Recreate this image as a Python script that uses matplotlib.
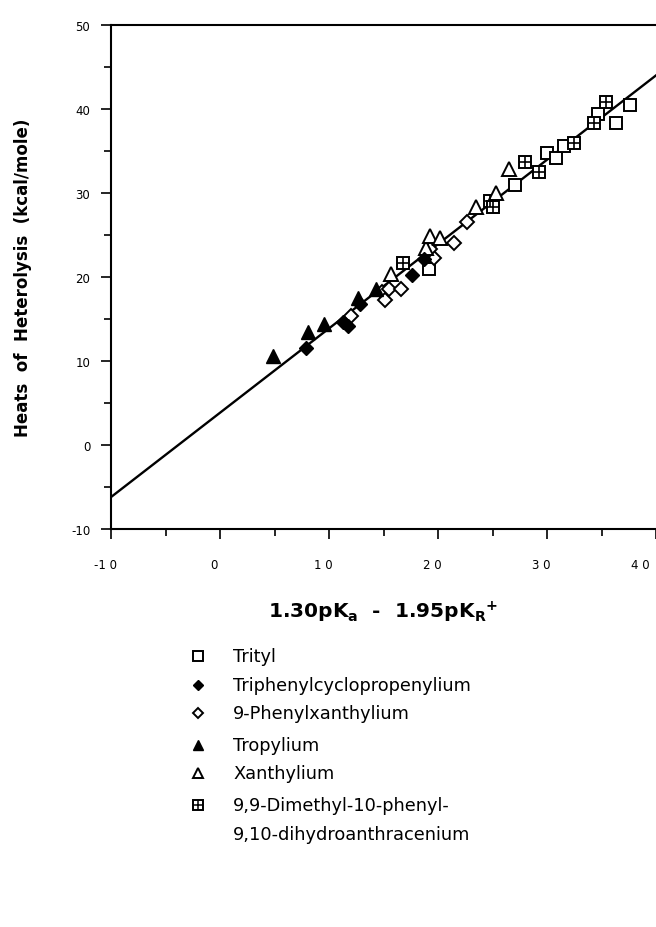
import matplotlib
matplotlib.use("Agg")
import matplotlib.pyplot as plt
import matplotlib.transforms as mtransforms
from matplotlib.ticker import MultipleLocator

# values
trityl_x = [19.2, 27.1, 30.0, 30.8, 31.6, 34.7, 36.3, 37.6]
trityl_y = [21.0, 31.0, 34.8, 34.2, 35.6, 39.4, 38.3, 40.5]

cyclopropenylium_x = [7.9, 11.3, 11.7, 12.8, 17.6, 18.7]
cyclopropenylium_y = [11.6, 14.6, 14.2, 16.8, 20.2, 22.2]

phenylxanthylium_x = [12.0, 14.9, 15.1, 15.5, 16.6, 19.6, 19.3, 21.5, 22.7]
phenylxanthylium_y = [15.4, 18.2, 17.3, 18.6, 18.6, 22.3, 23.3, 24.1, 26.5]

tropylium_x = [4.9, 8.1, 9.5, 12.7, 14.3]
tropylium_y = [10.6, 13.4, 14.4, 17.5, 18.6]

xanthylium_x = [15.7, 18.9, 19.3, 20.2, 23.5, 25.3, 26.5]
xanthylium_y = [20.3, 23.5, 24.9, 24.7, 28.3, 30.0, 32.9]

dimethyl_x = [16.75, 24.8, 25.0, 28.0, 29.3, 32.5, 34.3, 35.4]
dimethyl_y = [21.7, 29.1, 28.3, 33.7, 32.5, 36.0, 38.3, 40.8]

fit_x = [-10, 40]
fit_y = [-6.2, 44.0]

x_ticks = [-10, 0, 10, 20, 30, 40]
x_tick_labels = ["-1 0", "0", "1 0", "2 0", "3 0", "4 0"]
y_ticks = [-10, 0, 10, 20, 30, 40, 50]
y_tick_labels = ["-10", "0", "10", "20", "30", "40", "50"]

legend_labels = [
    "Trityl",
    "Triphenylcyclopropenylium",
    "9-Phenylxanthylium",
    "Tropylium",
    "Xanthylium",
    "9,9-Dimethyl-10-phenyl-",
    "9,10-dihydroanthracenium",
]

plt.rcParams.update({
    "font.family": "DejaVu Sans",
    "mathtext.fontset": "dejavusans",
})

W, H = 656, 928
fig = plt.figure(figsize=(W / 100, H / 100), dpi=100)
ax = fig.add_axes([111 / W, 1 - 530 / H, (W - 111) / W, (530 - 26) / H])

ax.plot(fit_x, fit_y, color="black", lw=1.7, zorder=2)

open_kw = dict(ls="none", mfc="white", mec="black", mew=1.4, zorder=3)
ax.plot(trityl_x, trityl_y, marker="s", ms=9, **open_kw)
ax.plot(dimethyl_x, dimethyl_y, marker="s", ms=8.5, **open_kw)
ax.plot(dimethyl_x, dimethyl_y, marker="+", ms=8.5, ls="none", mec="black", mew=1.2, zorder=4)
ax.plot(phenylxanthylium_x, phenylxanthylium_y, marker="D", ms=7, **open_kw)
ax.plot(xanthylium_x, xanthylium_y, marker="^", ms=9.5, **open_kw)
ax.plot(cyclopropenylium_x, cyclopropenylium_y, marker="D", ms=7, ls="none",
        color="black", zorder=3)
ax.plot(tropylium_x, tropylium_y, marker="^", ms=10, ls="none", color="black", zorder=3)

ax.set_xlim(-10, 40)
ax.set_ylim(-10, 50)
ax.set_xticks(x_ticks, x_tick_labels)
ax.set_yticks(y_ticks, y_tick_labels)
ax.xaxis.set_minor_locator(MultipleLocator(5))
ax.yaxis.set_minor_locator(MultipleLocator(5))

ax.spines["right"].set_visible(False)
for side in ["left", "bottom", "top"]:
    ax.spines[side].set_linewidth(1.5)
ax.tick_params(axis="both", which="major", direction="out", length=7, width=1.2,
               labelsize=8.5)
ax.tick_params(axis="both", which="minor", direction="out", length=5, width=1.2)
ax.tick_params(axis="x", which="major", pad=14)
ax.tick_params(axis="y", which="major", pad=8)

# labels in the scan sit a little left of the ticks
shift_x = mtransforms.ScaledTranslation(-6 / 100, 0, fig.dpi_scale_trans)
for lbl in ax.get_xticklabels():
    lbl.set_transform(lbl.get_transform() + shift_x)
ax.get_xticklabels()[-1].set_horizontalalignment("right")

ax.set_xlabel(r"1.30pK$_\mathbf{a}$  -  1.95pK$_\mathbf{R}$$^\mathbf{+}$",
              fontsize=14.5, fontweight="bold", labelpad=20)
ax.set_ylabel("Heats  of  Heterolysis  (kcal/mole)", fontsize=12,
              fontweight="bold", labelpad=28)

# legend drawn below the plot in pixel coordinates
lax = fig.add_axes([0, 0, 1, 1], zorder=-1)
lax.set_xlim(0, W)
lax.set_ylim(H, 0)
lax.axis("off")
rows = [657, 686, 714, 746, 774, 806, 835]
mx, tx = 198, 233
lax.plot(mx, rows[0], marker="s", ms=6.5, **open_kw)
lax.plot(mx, rows[1], marker="D", ms=5.5, ls="none", color="black")
lax.plot(mx, rows[2], marker="D", ms=5, **open_kw)
lax.plot(mx, rows[3], marker="^", ms=7.5, ls="none", color="black")
lax.plot(mx, rows[4], marker="^", ms=6.5, **open_kw)
lax.plot(mx, rows[5], marker="s", ms=6.5, **open_kw)
lax.plot(mx, rows[5], marker="+", ms=6.5, ls="none", mec="black", mew=1.1, zorder=4)
for y, text in zip(rows, legend_labels):
    lax.text(tx, y, text, fontsize=12.8, ha="left", va="center")

fig.savefig("out.png", dpi=100)
